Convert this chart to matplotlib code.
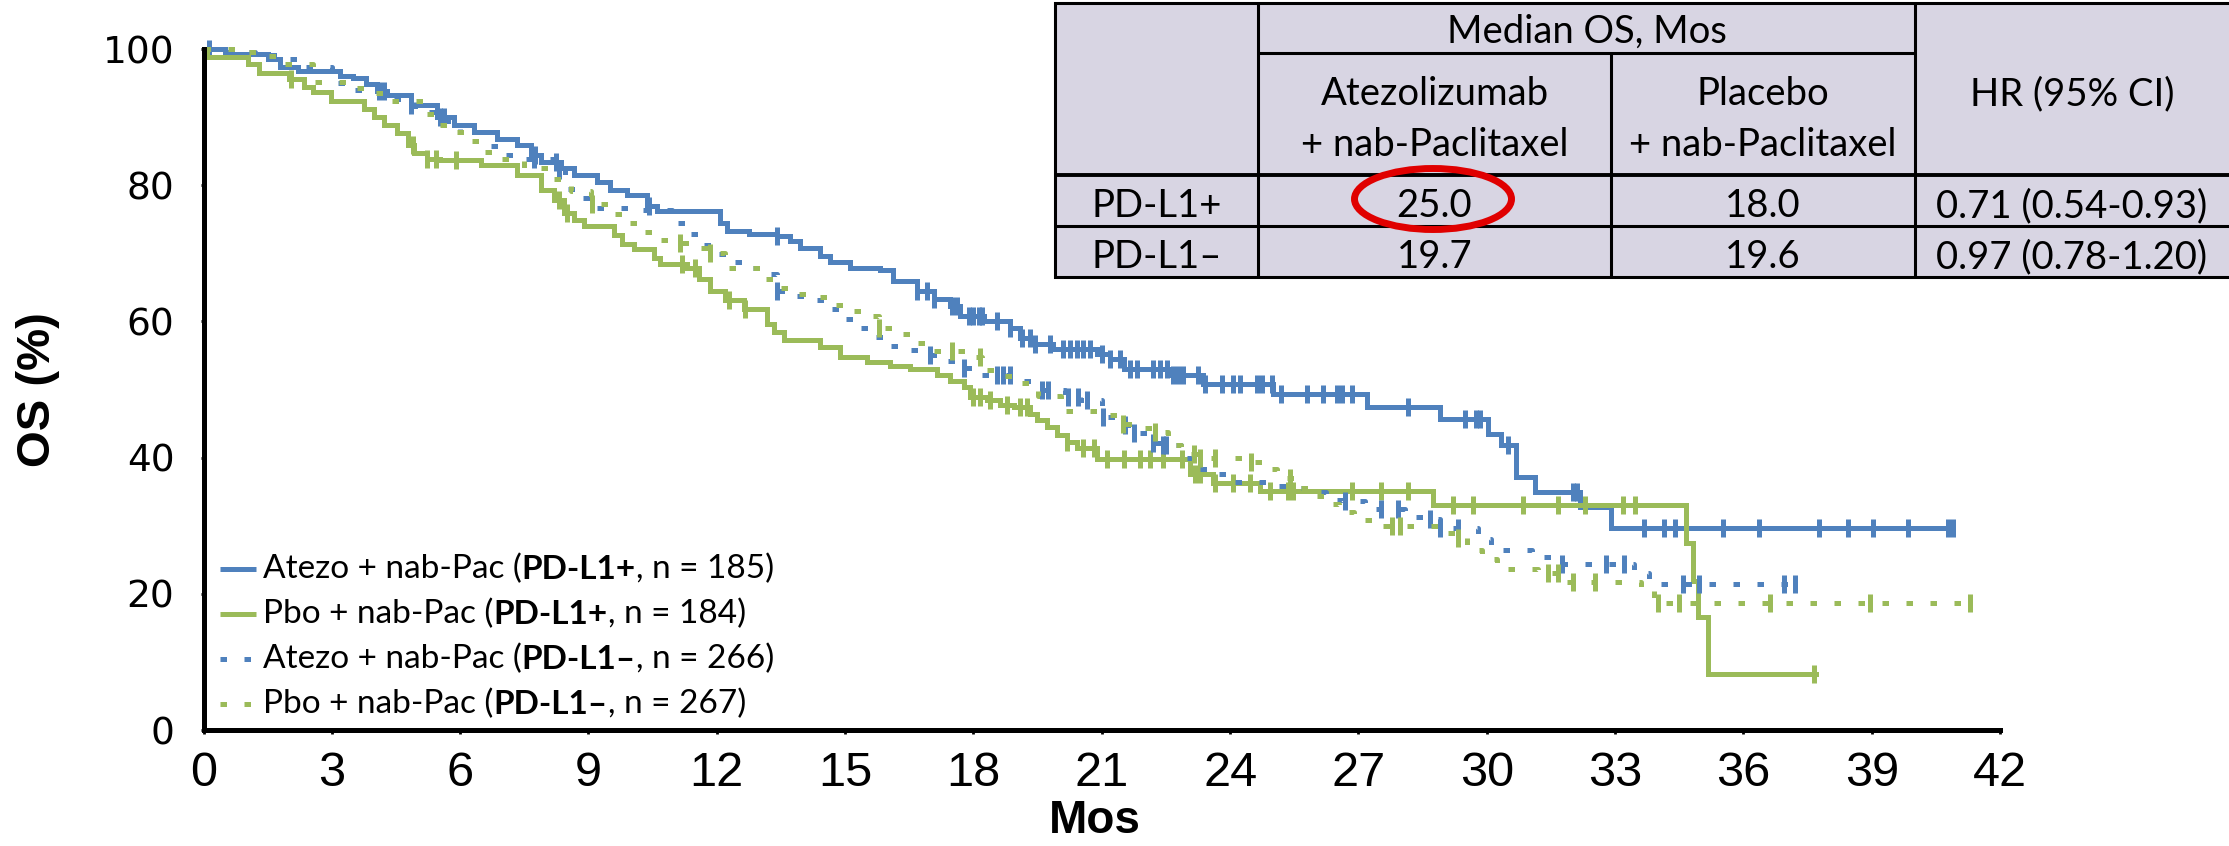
import numpy as np
import matplotlib
matplotlib.use('Agg')
import matplotlib.pyplot as plt
from matplotlib.patches import Rectangle, Ellipse

BLUE = '#4F81BD'
GREEN = '#9BBB59'

# ---------------- data ----------------
# Atezo + nab-Pac, PD-L1+ (solid blue)
atz_pos_t = [0, 0.5, 1.5, 1.8, 2.2, 3.2, 3.5, 3.8, 4.06, 4.3, 4.84, 5.47, 5.86, 6.32, 6.87,
             7.33, 7.65, 7.88, 8.35, 8.66, 9.2, 9.51, 9.91, 10.37, 10.6, 12.08, 12.24, 12.75,
             13.41, 13.72, 13.95, 14.42, 14.65, 15.12, 15.82, 16.13, 16.68, 17.07, 17.46,
             17.69, 18.24, 18.86, 19.09, 19.40, 19.87, 20.88, 21.19, 21.51, 22.6, 23.37,
             25.01, 27.19, 28.9, 30.03, 30.34, 30.69, 31.12, 32.17, 32.9]
atz_pos_s = [100, 99.2, 98.5, 97.3, 96.7, 96.1, 95.7, 94.9, 93.9, 93.2, 91.8, 90.0, 88.8, 87.8,
             86.8, 85.9, 84.4, 83.4, 82.5, 81.5, 80.5, 79.3, 78.6, 76.9, 76.2, 74.4, 73.3, 72.8,
             72.5, 71.8, 70.8, 69.6, 68.7, 67.9, 67.5, 66.0, 64.5, 63.3, 62.3, 60.8, 60.1,
             59.1, 57.6, 56.7, 56.0, 55.2, 54.5, 53.0, 52.1, 50.8, 49.4, 47.4, 45.6, 43.4,
             41.8, 37.1, 34.9, 32.8, 29.6]
atz_pos_end = 40.9
atz_pos_cens = [0.13, 4.10, 4.22, 4.84, 5.54, 5.62, 7.76, 8.25, 10.41, 13.41, 16.68, 16.91,
                17.07, 17.5, 17.61, 17.89, 18.0, 18.12, 18.2, 18.55, 18.86, 19.13, 19.33,
                19.44, 19.79, 20.1, 20.26, 20.42, 20.57, 20.73, 21.0, 21.19, 21.43, 21.66,
                21.82, 22.2, 22.36, 22.52, 22.67, 22.79, 22.91, 23.26, 23.41, 23.8, 24.08,
                24.23, 24.62, 24.74, 24.97, 25.2, 25.79, 26.18, 26.49, 26.61, 26.84, 28.16,
                29.49, 29.76, 29.84, 30.5, 32.02, 32.10, 33.68, 34.14, 34.40, 35.52, 36.36,
                37.78, 38.44, 39.04, 39.84, 40.78, 40.9]

# Pbo + nab-Pac, PD-L1+ (solid green)
pbo_pos_t = [0, 0.09, 1.03, 1.30, 2.00, 2.35, 2.55, 2.97, 3.75, 3.99, 4.22, 4.53, 4.77, 4.92,
             5.23, 5.54, 6.48, 7.33, 7.88, 8.19, 8.42, 8.66, 8.89, 9.59, 9.79, 10.06, 10.53,
             10.68, 11.3, 11.58, 11.85, 12.2, 12.63, 13.18, 13.33, 13.56, 14.42, 14.89, 15.51,
             16.06, 16.52, 17.15, 17.46, 17.77, 17.92, 18.31, 18.63, 18.94, 19.33, 19.48,
             19.71, 19.95, 20.18, 20.42, 20.88, 23.06, 23.61, 24.70, 28.75, 34.67, 34.82,
             34.94, 35.17]
pbo_pos_s = [100, 98.8, 97.8, 96.5, 95.6, 94.4, 93.7, 92.4, 91.2, 90.0, 88.8, 87.6, 85.9, 84.7,
             83.9, 83.7, 83.0, 81.5, 79.3, 77.8, 75.9, 74.9, 74.0, 72.7, 71.3, 70.7, 69.3,
             68.4, 67.8, 66.2, 64.5, 63.2, 61.8, 59.6, 58.4, 57.2, 56.2, 54.7, 54.0, 53.5,
             53.0, 52.2, 51.3, 50.3, 48.9, 48.4, 47.7, 47.4, 46.4, 45.5, 44.5, 43.3, 42.3,
             41.4, 39.8, 37.6, 36.2, 35.1, 33.0, 27.4, 21.9, 16.6, 8.2]
pbo_pos_end = 37.7
pbo_pos_cens = [2.04, 4.9, 5.23, 5.43, 5.9, 8.3, 8.5, 11.19, 11.5, 12.28, 12.67, 18.0, 18.16,
                18.39, 18.78, 19.09, 19.25, 20.18, 20.57, 20.81, 21.12, 21.51, 21.89, 22.13,
                22.44, 22.87, 23.18, 23.30, 23.65, 24.07, 24.46, 24.93, 25.36, 25.48, 26.84,
                27.54, 28.16, 29.21, 29.68, 30.85, 31.67, 32.29, 33.18, 33.46, 37.66]

# Atezo + nab-Pac, PD-L1- (dotted blue)
atz_neg_t = [0, 0.5, 1.2, 1.9, 2.35, 3.0, 3.45, 4.2, 4.95, 5.45, 6.0, 6.6, 7.0, 7.4, 8.25,
             8.45, 8.75, 9.05, 10.2, 10.95, 11.25, 11.55, 11.95, 12.3, 12.7, 13.1, 13.4,
             13.75, 14.25, 14.55, 14.9, 15.25, 15.6, 15.95, 16.4, 16.95, 17.3, 17.75, 18.05,
             19.05, 19.6, 20.15, 20.5, 21.0, 21.35, 21.7, 22.1, 22.4, 22.85, 23.2, 23.6, 24.0,
             24.9, 25.4, 25.9, 26.25, 26.65, 27.15, 28.1, 28.6, 28.9, 29.8, 30.1, 31.05, 31.5,
             33.45, 33.8]
atz_neg_s = [100, 99.5, 99.1, 98.5, 97.4, 95.0, 94.0, 92.7, 90.7, 89.5, 87.8, 85.8, 84.5,
             83.8, 82.2, 79.5, 78.1, 76.6, 76.4, 74.4, 72.8, 71.2, 69.9, 68.7, 67.8, 66.9,
             64.4, 63.7, 63.2, 61.8, 60.4, 59.0, 57.7, 56.4, 55.8, 55.0, 54.2, 53.2, 52.1,
             51.3, 49.9, 48.9, 48.4, 46.0, 44.8, 43.6, 42.1, 41.8, 40.0, 38.3, 37.6, 36.4,
             35.9, 35.6, 35.0, 33.8, 33.7, 32.5, 31.3, 31.0, 29.7, 28.0, 26.5, 25.4, 24.4,
             23.0, 21.4]
atz_neg_end = 37.2
atz_neg_cens = [7.72, 8.3, 13.41, 16.99, 17.77, 18.55, 18.7, 18.85, 19.6, 19.75, 20.2, 20.45,
                20.65, 21.04, 21.55, 21.75, 22.2, 22.44, 22.5, 26.68, 27.54, 27.93, 28.67,
                28.9, 29.33, 31.75, 32.8, 33.2, 34.6, 34.97, 36.94, 37.2]

# Pbo + nab-Pac, PD-L1- (dotted green)
pbo_neg_t = [0, 0.8, 1.45, 1.85, 2.55, 3.45, 3.95, 4.35, 5.15, 5.4, 5.85, 6.2, 6.5, 6.85, 7.5,
             8.1, 8.6, 9.05, 9.5, 9.85, 10.2, 10.6, 11.1, 11.5, 11.85, 12.2, 13.05, 13.45,
             13.8, 14.3, 14.7, 15.1, 15.55, 15.8, 16.2, 16.6, 17.0, 17.9, 18.2, 18.6, 19.05,
             19.5, 20.05, 21.0, 21.4, 21.9, 22.25, 22.55, 22.85, 23.3, 24.35, 24.75, 25.1,
             25.5, 25.85, 26.2, 26.55, 26.9, 27.35, 28.85, 29.3, 29.55, 29.9, 30.25, 31.2,
             31.7, 33.6, 33.9]
pbo_neg_s = [100, 99.6, 98.9, 97.8, 95.2, 94.2, 93.6, 92.4, 90.5, 88.8, 87.8, 86.5, 84.9,
             83.8, 82.5, 80.9, 79.2, 77.3, 75.7, 74.4, 73.2, 71.9, 71.5, 70.8, 70.1, 67.9,
             66.2, 64.9, 64.0, 63.6, 62.4, 61.6, 60.8, 59.1, 58.1, 56.8, 55.7, 54.7, 52.9,
             52.0, 51.0, 49.0, 46.9, 46.2, 45.0, 44.4, 43.8, 41.8, 40.6, 39.9, 39.4, 38.3,
             37.0, 35.6, 34.4, 33.2, 32.0, 30.9, 29.9, 29.0, 28.2, 26.4, 25.1, 23.7, 23.0,
             21.7, 20.4, 18.7]
pbo_neg_end = 41.3
pbo_neg_cens = [9.09, 11.15, 11.85, 15.8, 17.5, 18.16, 21.5, 22.25, 23.15, 23.3, 23.65, 24.5,
                25.4, 27.78, 27.97, 29.33, 31.43, 31.67, 32.02, 32.52, 34.0, 34.5, 36.63,
                38.96, 41.3]

legend_arm = ['Atezo + nab-Pac', 'Pbo + nab-Pac', 'Atezo + nab-Pac', 'Pbo + nab-Pac']
legend_grp = ['PD-L1+', 'PD-L1+', 'PD-L1\u2013', 'PD-L1\u2013']
legend_n = [185, 184, 266, 267]

x_ticks = list(range(0, 43, 3))
y_ticks = [0, 20, 40, 60, 80, 100]

tbl_groups = ['PD-L1+', 'PD-L1\u2013']
tbl_med_atezo = [25.0, 19.7]
tbl_med_pbo = [18.0, 19.6]
tbl_hr = [0.71, 0.97]
tbl_ci_lo = [0.54, 0.78]
tbl_ci_hi = [0.93, 1.20]

# ---------------- figure ----------------
W, H = 2229, 846
fig = plt.figure(figsize=(W / 100, H / 100), dpi=100)
x0, x1 = 203.5, 2000.0
y0, y1 = 730.0, 49.0
ax = fig.add_axes([x0 / W, (H - y0) / H, (x1 - x0) / W, (y0 - y1) / H])
ax.set_xlim(0, 42)
ax.set_ylim(0, 100)

LW = 3.6
curves = [
    (atz_pos_t, atz_pos_s, atz_pos_end, atz_pos_cens, BLUE, False),
    (pbo_pos_t, pbo_pos_s, pbo_pos_end, pbo_pos_cens, GREEN, False),
    (atz_neg_t, atz_neg_s, atz_neg_end, atz_neg_cens, BLUE, True),
    (pbo_neg_t, pbo_neg_s, pbo_neg_end, pbo_neg_cens, GREEN, True),
]
DOTS = (1.3, 3.5)
for k, (t, s, end, cens, col, dotted) in enumerate(curves):
    tt = list(t) + [end]
    ss = list(s) + [s[-1]]
    kw = dict(color=col, lw=LW, where='post', solid_joinstyle='miter', clip_on=False,
              zorder=3 + k)
    if dotted:
        kw['dashes'] = DOTS
        kw['dash_capstyle'] = 'butt'
    ax.step(tt, ss, **kw)
    ta = np.asarray(t)
    sa = np.asarray(s)
    idx = np.searchsorted(ta, np.asarray(cens), side='right') - 1
    ax.plot(cens, sa[idx], linestyle='none', marker='|', markersize=13,
            markeredgewidth=LW, color=col, clip_on=False, zorder=3 + k)

for sp in ['top', 'right']:
    ax.spines[sp].set_visible(False)
for sp in ['left', 'bottom']:
    ax.spines[sp].set_linewidth(LW)
    ax.spines[sp].set_color('black')
    ax.spines[sp].set_zorder(10)

NARROW = ['Liberation Sans Narrow', 'Liberation Sans']
ax.set_xticks(x_ticks, [str(v) for v in x_ticks], fontfamily=NARROW, fontsize=35)
ax.set_yticks(y_ticks, [str(v) for v in y_ticks], fontfamily='DejaVu Sans', fontsize=27)
ax.tick_params(axis='x', direction='out', length=3, width=2, pad=12, color='black')
ax.tick_params(axis='y', direction='out', length=2, width=2, pad=19, color='black')

ax.set_xlabel('Mos', fontfamily=NARROW, fontsize=33, fontweight='bold')
ax.xaxis.set_label_coords((1095 - x0) / (x1 - x0), -(799 - y0) / (y0 - y1))
ax.set_ylabel('OS (%)', fontfamily=NARROW, fontsize=34, fontweight='bold')
ax.yaxis.set_label_coords(-(x0 - 60) / (x1 - x0), 0.5)

# ---------------- overlay in pixel coordinates (legend + table) ----------------
ov = fig.add_axes([0, 0, 1, 1], zorder=20)
ov.set_xlim(0, W)
ov.set_ylim(H, 0)
ov.axis('off')

LEG_FONT = 'Lato'
LEG_SIZE = 24
for i in range(4):
    base = 578 + 45 * i
    ly = base - 9
    col = BLUE if i % 2 == 0 else GREEN
    kw = dict(color=col, lw=LW, solid_capstyle='butt')
    if i >= 2:
        kw['dashes'] = DOTS
        kw['dash_capstyle'] = 'butt'
    ov.plot([220, 256], [ly, ly], **kw)
    a1 = ov.text(263, base, legend_arm[i] + ' (', fontfamily=LEG_FONT, fontsize=LEG_SIZE,
                 va='baseline', ha='left')
    a2 = ov.annotate(legend_grp[i], xy=(1, 0), xycoords=a1, va='bottom', ha='left',
                     fontfamily=LEG_FONT, fontsize=LEG_SIZE, fontweight='bold')
    ov.annotate(', n = %d)' % legend_n[i], xy=(1, 0), xycoords=a2, va='bottom', ha='left',
                fontfamily=LEG_FONT, fontsize=LEG_SIZE)

# table
TBL_BG = '#D8D5E3'
tl, tr = 1055, 2229
tt_, tb = 3, 277
c1, c2, c3 = 1258, 1611, 1915
r_mid, r_head, r_1 = 53, 175, 226
ov.add_patch(Rectangle((tl, tt_), 1300, tb - tt_, facecolor=TBL_BG, edgecolor='black',
                       lw=2.2, zorder=1))
line_kw = dict(color='black', lw=2.2, solid_capstyle='butt', zorder=2)
ov.plot([c1, c1], [tt_, tb], **line_kw)
ov.plot([c3, c3], [tt_, tb], **line_kw)
ov.plot([c2, c2], [r_mid, tb], **line_kw)
ov.plot([c1, c3], [r_mid, r_mid], **line_kw)
ov.plot([tl, tr], [r_head, r_head], color='black', lw=2.8, solid_capstyle='butt', zorder=2)
ov.plot([tl, tr], [r_1, r_1], **line_kw)

TF = dict(fontfamily='Lato', fontsize=27.5, ha='center', va='baseline', zorder=3)
ov.text((c1 + c3) / 2, 43, 'Median OS, Mos', **TF)
ov.text((c1 + c2) / 2, 105, 'Atezolizumab', **TF)
ov.text((c1 + c2) / 2, 156, '+ nab-Paclitaxel', **TF)
ov.text((c2 + c3) / 2, 105, 'Placebo', **TF)
ov.text((c2 + c3) / 2, 156, '+ nab-Paclitaxel', **TF)
ov.text((c3 + tr) / 2, 105, 'HR (95% CI)', **TF)
row_base = [217, 268]
for i in range(2):
    ov.text((tl + c1) / 2, row_base[i], tbl_groups[i], **TF)
    ov.text((c1 + c2) / 2, row_base[i], '%.1f' % tbl_med_atezo[i], **TF)
    ov.text((c2 + c3) / 2, row_base[i], '%.1f' % tbl_med_pbo[i], **TF)
    ov.text((c3 + tr) / 2, row_base[i],
            '%.2f (%.2f-%.2f)' % (tbl_hr[i], tbl_ci_lo[i], tbl_ci_hi[i]), **TF)

ov.add_patch(Ellipse((1433, 199), 157, 61, fill=False, edgecolor='#E00000', lw=5, zorder=4))

fig.savefig('out.png', dpi=100)
